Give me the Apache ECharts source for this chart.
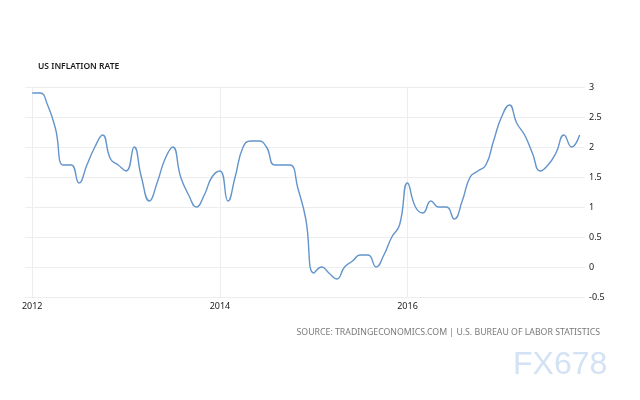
<!DOCTYPE html>
<html>
<head>
<meta charset="utf-8">
<script src="https://cdn.jsdelivr.net/npm/echarts@6/dist/echarts.min.js"></script>
<style>
html,body{margin:0;padding:0;background:#fff;}
#chart{width:640px;height:400px;}
</style>
</head>
<body>
<div id="chart"></div>
<script>
// Monthly dates (first of month), Jan 2012 .. Nov 2017
const startYear = 2012;
const months = [];
for (let i = 0; i < 71; i++) {
  const y = startYear + Math.floor(i / 12);
  const m = (i % 12) + 1;
  months.push(y + '-' + (m < 10 ? '0' + m : m) + '-01');
}
const inflation2012 = [2.9, 2.9, 2.7, 2.3, 1.7, 1.7, 1.4, 1.7, 2.0, 2.2, 1.8, 1.7];
const inflation2013 = [1.6, 2.0, 1.5, 1.1, 1.4, 1.8, 2.0, 1.5, 1.2, 1.0, 1.2, 1.5];
const inflation2014 = [1.6, 1.1, 1.5, 2.0, 2.1, 2.1, 2.0, 1.7, 1.7, 1.7, 1.3, 0.8];
const inflation2015 = [-0.1, 0.0, -0.1, -0.2, 0.0, 0.1, 0.2, 0.2, 0.0, 0.2, 0.5, 0.7];
const inflation2016 = [1.4, 1.0, 0.9, 1.1, 1.0, 1.0, 0.8, 1.1, 1.5, 1.6, 1.7, 2.1];
const inflation2017 = [2.5, 2.7, 2.4, 2.2, 1.9, 1.6, 1.7, 1.9, 2.2, 2.0, 2.2];
const values = [].concat(inflation2012, inflation2013, inflation2014, inflation2015, inflation2016, inflation2017);
const xTickDates = ['2012-01-01', '2014-01-01', '2016-01-01'];
const title = 'US INFLATION RATE';
const sourceText = 'SOURCE: TRADINGECONOMICS.COM | U.S. BUREAU OF LABOR STATISTICS';
const watermark = 'FX678';

const ts = d => Date.UTC(+d.slice(0, 4), +d.slice(5, 7) - 1, +d.slice(8, 10));
const seriesData = months.map((d, i) => [ts(d), values[i]]);
const tickTs = xTickDates.map(ts);

const chart = echarts.init(document.getElementById('chart'), null, {renderer: 'canvas'});
chart.setOption({
  backgroundColor: '#ffffff',
  animation: false,
  textStyle: {fontFamily: 'Noto Sans'},
  title: {
    text: title,
    left: 38, top: 62, padding: 0,
    textStyle: {fontSize: 8.5, fontWeight: 600, color: '#1a1a1a', fontFamily: 'Noto Sans'}
  },
  grid: {left: 25, right: 55, top: 87, bottom: 103, containLabel: false},
  xAxis: {
    type: 'value',
    min: ts('2011-12-04'),
    max: ts('2017-11-22'),
    axisLine: {show: false},
    axisTick: {show: false, customValues: tickTs},
    axisLabel: {
      customValues: tickTs,
      formatter: v => String(new Date(v).getUTCFullYear()),
      color: '#1a1a1a', fontSize: 9, margin: 5, fontFamily: 'Noto Sans'
    },
    splitLine: {show: true, lineStyle: {color: '#ededed', width: 1}}
  },
  yAxis: {
    type: 'value',
    position: 'right',
    min: -0.5, max: 3, interval: 0.5,
    axisLine: {show: false},
    axisTick: {show: false},
    axisLabel: {color: '#1a1a1a', fontSize: 9, margin: 4, fontFamily: 'Noto Sans'},
    splitLine: {show: true, lineStyle: {color: '#ededed', width: 1}}
  },
  series: [{
    type: 'line',
    data: seriesData,
    smooth: 0.5,
    showSymbol: false,
    lineStyle: {color: '#6394cc', width: 1.4},
    itemStyle: {color: '#6394cc'}
  }],
  graphic: [
    {
      type: 'text', right: 40, top: 328,
      style: {text: sourceText, fill: '#7a7a7a', font: '8.75px "Noto Sans"'}
    },
    {
      type: 'text', left: 513, top: 349,
      style: {
        text: watermark, fill: '#d3e2f4',
        font: '32px "Liberation Sans"',
        shadowColor: 'rgba(140,115,85,0.85)', shadowOffsetX: 1, shadowOffsetY: 1, shadowBlur: 1
      }
    }
  ]
});
</script>
</body>
</html>
